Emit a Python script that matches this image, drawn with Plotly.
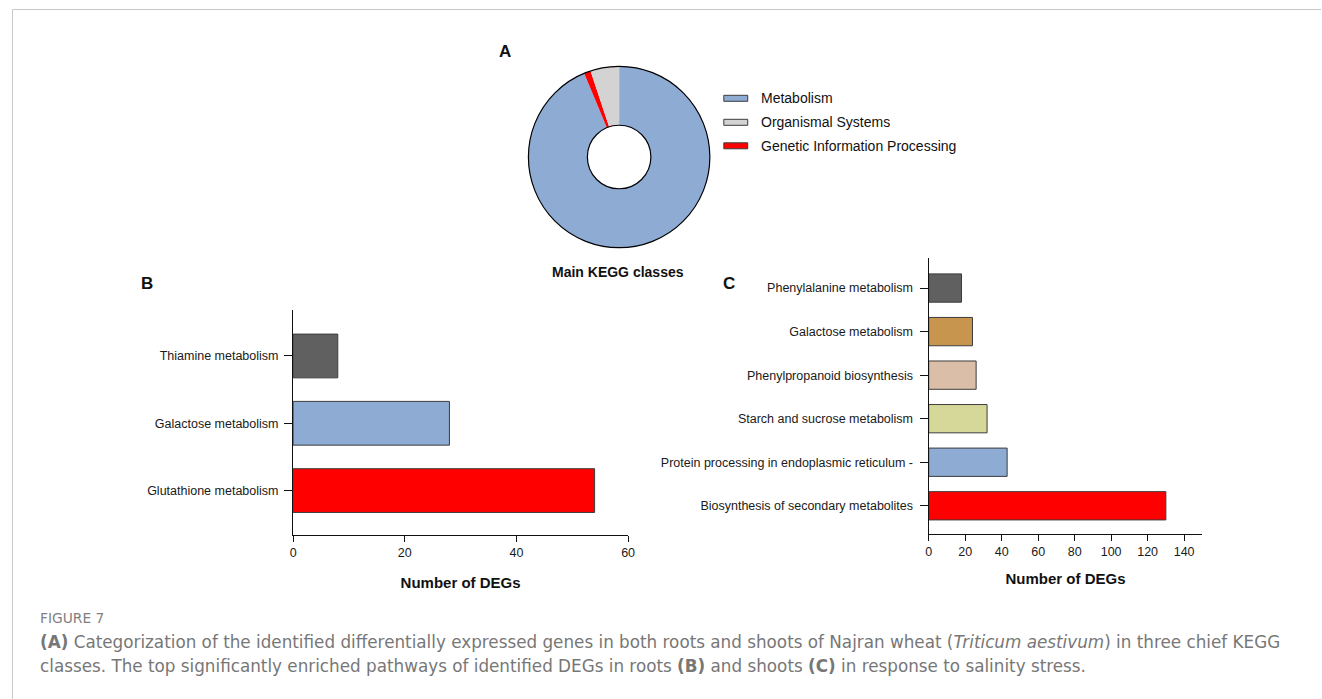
import plotly.graph_objects as go

# target picture size, and the CSS size of the figure (horizontally the photographed
# page shows the figure scaled by ~0.9955, so the figure is made a little wider)
TW, TH = 1322, 699
W, H = 1328, 699

# ---------------- data ----------------
pie_labels = ["Metabolism", "Genetic Information Processing", "Organismal Systems"]
pie_values = [93.7, 1.2, 5.1]
pie_colors = ["#8DABD3", "#FF0000", "#D3D3D3"]
legend_labels = ["Metabolism", "Organismal Systems", "Genetic Information Processing"]

roots_pathways = ["Thiamine metabolism", "Galactose metabolism", "Glutathione metabolism"]
roots_degs = [8, 28, 54]
roots_colors = ["#606060", "#8DABD3", "#FF0000"]
roots_ticks = [0, 20, 40, 60]

shoots_pathways = ["Phenylalanine metabolism", "Galactose metabolism",
                   "Phenylpropanoid biosynthesis", "Starch and sucrose metabolism",
                   "Protein processing in endoplasmic reticulum -",
                   "Biosynthesis of secondary metabolites"]
shoots_degs = [18, 24, 26, 32, 43, 130]
shoots_colors = ["#606060", "#C8954F", "#DBBEA7", "#D6D89A", "#8DABD3", "#FF0000"]
shoots_ticks = [0, 20, 40, 60, 80, 100, 120, 140]

axis_title = "Number of DEGs"
caption_head = "FIGURE 7"
caption_l1 = ("<b>(A)</b> Categorization of the identified differentially expressed genes in both roots "
              "and shoots of Najran wheat (<i>Triticum aestivum</i>) in three chief KEGG")
caption_l2 = ("classes. The top significantly enriched pathways of identified DEGs in roots "
              "<b>(B)</b> and shoots <b>(C)</b> in response to salinity stress.")

def px(x):
    return x / TW

def py(y):
    return 1 - y / TH

FONT = "Liberation Sans, Arial, sans-serif"
CAP_FONT = "DejaVu Sans, sans-serif"
OUTLINE = "#3c3c3c"

fig = go.Figure()

fig.add_trace(go.Pie(
    labels=pie_labels, values=pie_values, sort=False, direction="clockwise", rotation=0,
    hole=0.35, textinfo="none", showlegend=False,
    marker=dict(colors=pie_colors, line=dict(width=0)),
    domain=dict(x=[px(527), px(709)], y=[py(248), py(66)]),
))
fig.add_trace(go.Pie(
    labels=["all"], values=[sum(pie_values)], hole=0.35, textinfo="none", showlegend=False,
    hoverinfo="skip",
    marker=dict(colors=["rgba(0,0,0,0)"], line=dict(color="#000000", width=1.2)),
    domain=dict(x=[px(527), px(709)], y=[py(248), py(66)]),
))

fig.add_trace(go.Bar(
    y=roots_pathways, x=roots_degs, orientation="h", width=0.65,
    marker=dict(color=roots_colors, line=dict(color=OUTLINE, width=1)),
    xaxis="x", yaxis="y", showlegend=False,
))
fig.add_trace(go.Bar(
    y=shoots_pathways, x=shoots_degs, orientation="h", width=0.65,
    marker=dict(color=shoots_colors, line=dict(color=OUTLINE, width=1)),
    xaxis="x2", yaxis="y2", showlegend=False,
))

common_axis = dict(showline=True, linecolor="#111111", linewidth=1.3, ticks="outside",
                   tickcolor="#111111", tickwidth=1.3, showgrid=False, zeroline=False,
                   tickfont=dict(family=FONT, size=12.5, color="#1a1a1a"))

fig.update_layout(
    width=W, height=H, margin=dict(l=0, r=0, t=0, b=0),
    paper_bgcolor="white", plot_bgcolor="white",
    font=dict(family=FONT, color="#111111"),
    xaxis=dict(domain=[px(291), px(627)], range=[0, 60], tickvals=roots_ticks, ticklen=6,
               anchor="y",
               title=dict(text="<b>" + axis_title + "</b>", font=dict(size=15, color="#111111"),
                          standoff=18),
               **common_axis),
    yaxis=dict(domain=[py(535), py(310)], type="category", categoryorder="array",
               categoryarray=roots_pathways, range=[2.66, -0.683], ticklen=8, anchor="x",
               ticklabelstandoff=3,
               **common_axis),
    xaxis2=dict(domain=[px(928.5), px(1203)], range=[0, 150], tickvals=shoots_ticks, ticklen=6,
                anchor="y2",
                title=dict(text="<b>" + axis_title + "</b>", font=dict(size=15, color="#111111"),
                           standoff=15),
                **common_axis),
    yaxis2=dict(domain=[py(534), py(258)], type="category", categoryorder="array",
                categoryarray=shoots_pathways, range=[5.648, -0.69], ticklen=8, anchor="x2",
                ticklabelstandoff=4,
                **common_axis),
)

legend_y = [98.3, 122.3, 145.8]
for lab, yy in zip(legend_labels, legend_y):
    col = pie_colors[pie_labels.index(lab)]
    fig.add_shape(type="rect", xref="paper", yref="paper",
                  x0=px(723), x1=px(747), y0=py(yy + 3), y1=py(yy - 3),
                  fillcolor=col, line=dict(color=OUTLINE, width=1))
    fig.add_annotation(text=lab, xref="paper", yref="paper", x=px(758), y=py(yy),
                       xanchor="left", yanchor="middle", showarrow=False,
                       font=dict(family=FONT, size=14, color="#111111"))

for txt, x, y, sz in [("A", 504, 52, 17), ("B", 144, 283, 17), ("C", 728, 283, 17),
                      ("Main KEGG classes", 617, 272, 14)]:
    fig.add_annotation(text="<b>" + txt + "</b>", xref="paper", yref="paper", x=px(x), y=py(y),
                       xanchor="center", yanchor="middle", showarrow=False,
                       font=dict(family=FONT, size=sz, color="#111111"))

fig.add_annotation(text=caption_head, xref="paper", yref="paper", x=px(35), y=py(618),
                   xanchor="left", yanchor="middle", showarrow=False,
                   font=dict(family=CAP_FONT, size=13.8, color="#808080"))
for txt, y in [(caption_l1, 642), (caption_l2, 666)]:
    fig.add_annotation(text=txt, xref="paper", yref="paper", x=px(35), y=py(y),
                       xanchor="left", yanchor="middle", showarrow=False,
                       font=dict(family=CAP_FONT, size=16.8, color="#777777"))

# figure frame lines (top and left)
fig.add_shape(type="line", xref="paper", yref="paper", x0=px(9.5), x1=px(9.5), y0=py(9.5), y1=0,
              line=dict(color="#c8c8c8", width=1))
fig.add_shape(type="line", xref="paper", yref="paper", x0=px(9.5), x1=1, y0=py(9.5), y1=py(9.5),
              line=dict(color="#c8c8c8", width=1))

fig.write_html("out.html", config={"displayModeBar": False},
               post_script="document.body.style.margin='0';document.body.style.overflow='hidden';"
                           "document.documentElement.style.overflow='hidden';")
